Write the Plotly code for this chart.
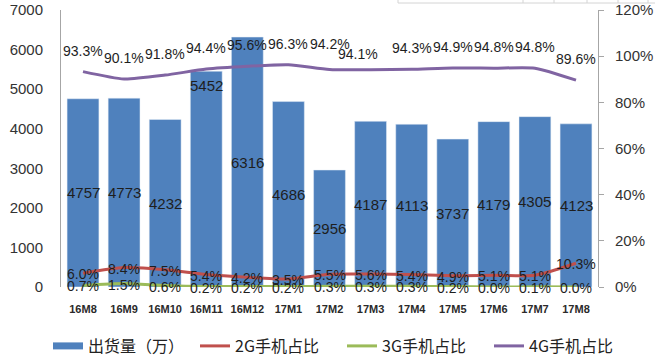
import plotly.graph_objects as go

# ---------------- data ----------------
categories = ["16M8", "16M9", "16M10", "16M11", "16M12", "17M1", "17M2",
              "17M3", "17M4", "17M5", "17M6", "17M7", "17M8"]
shipments = [4757, 4773, 4232, 5452, 6316, 4686, 2956, 4187, 4113, 3737, 4179, 4305, 4123]
share_2g = [6.0, 8.4, 7.5, 5.4, 4.2, 3.5, 5.5, 5.6, 5.4, 4.9, 5.1, 5.1, 10.3]
share_3g = [0.7, 1.5, 0.6, 0.2, 0.2, 0.2, 0.3, 0.3, 0.3, 0.2, 0.0, 0.1, 0.0]
share_4g = [93.3, 90.1, 91.8, 94.4, 95.6, 96.3, 94.2, 94.1, 94.3, 94.9, 94.8, 94.8, 89.6]
left_ticks = [0, 1000, 2000, 3000, 4000, 5000, 6000, 7000]
right_ticks = [0, 20, 40, 60, 80, 100, 120]
right_tick_labels = ["0%", "20%", "40%", "60%", "80%", "100%", "120%"]

names = ["出货量（万）", "2G手机占比", "3G手机占比", "4G手机占比"]

# ---------------- style ----------------
BLUE = "#4F81BD"
RED = "#C0504D"
GREEN = "#9BBB59"
PURPLE = "#8064A2"
TXT = "#1E1E1E"
AX = "#A6A6A6"
NUM_FONT = "Liberation Sans, Arial, sans-serif"
CJK_FONT = "Noto Sans CJK SC, sans-serif"

# small manual nudges of a few data labels (px) as in the original
nudge_4g = {6: (0, 5), 7: (-13, -5)}
nudge_bar = {3: "top"}

fig = go.Figure()

fig.add_trace(go.Bar(x=categories, y=shipments, marker_color=BLUE, showlegend=False,
                     name=names[0], yaxis="y"))
# legend-only entry drawn as a flat wide block
fig.add_trace(go.Scatter(x=[None], y=[None], mode="lines", name=names[0],
                         line=dict(color=BLUE, width=7), yaxis="y"))
for vals, col, nm in [(share_2g, RED, names[1]), (share_3g, GREEN, names[2]),
                      (share_4g, PURPLE, names[3])]:
    fig.add_trace(go.Scatter(x=categories, y=vals, mode="lines", name=nm,
                             line=dict(color=col, width=3, shape="spline", smoothing=0.6),
                             yaxis="y2"))

ann = []
for i, (c, v) in enumerate(zip(categories, shipments)):
    if nudge_bar.get(i) == "top":
        ann.append(dict(x=c, y=v, yref="y", xref="x", text=str(v), showarrow=False,
                        yshift=-14, font=dict(size=15, color=TXT, family=NUM_FONT)))
    else:
        ann.append(dict(x=c, y=v / 2, yref="y", xref="x", text=str(v), showarrow=False,
                        font=dict(size=15, color=TXT, family=NUM_FONT)))
for i, (c, v) in enumerate(zip(categories, share_2g)):
    ann.append(dict(x=c, y=v, yref="y2", xref="x", text=f"{v:.1f}%", showarrow=False,
                    yshift=-1, font=dict(size=14, color=TXT, family=NUM_FONT)))
for i, (c, v) in enumerate(zip(categories, share_3g)):
    ann.append(dict(x=c, y=v, yref="y2", xref="x", text=f"{v:.1f}%", showarrow=False,
                    yshift=-1, font=dict(size=14, color=TXT, family=NUM_FONT)))
for i, (c, v) in enumerate(zip(categories, share_4g)):
    dx, dy = nudge_4g.get(i, (0, 0))
    ann.append(dict(x=c, y=v, yref="y2", xref="x", text=f"{v:.1f}%", showarrow=False,
                    xshift=dx, yshift=21 + dy, font=dict(size=14, color=TXT, family=NUM_FONT)))

# faint table border visible at the top of the original picture
L, R, T, B = 61, 598, 10, 287
W, H = 656, 363
def px(xp):
    return (xp - L) / (R - L)
def py(yp):
    return (B - yp) / (B - T)
shapes = [dict(type="line", xref="paper", yref="paper", x0=px(398), x1=px(655),
               y0=py(3), y1=py(3), line=dict(color="#D4D4D4", width=1))]
for xv in [398, 523, 554, 587, 618, 648]:
    shapes.append(dict(type="line", xref="paper", yref="paper", x0=px(xv), x1=px(xv),
                       y0=py(0), y1=py(3), line=dict(color="#D4D4D4", width=1)))

fig.update_layout(
    width=W, height=H,
    margin=dict(l=L, r=W - R, t=T, b=H - B, autoexpand=False),
    paper_bgcolor="white", plot_bgcolor="white",
    bargap=0.225,
    annotations=ann,
    shapes=shapes,
    xaxis=dict(type="category", showline=False, showgrid=False, ticks="", automargin=False,
               tickfont=dict(size=11, color="#2A2A2A", family=NUM_FONT, weight="bold"),
               ticklabelstandoff=14),
    yaxis=dict(range=[0, 7000], tickvals=left_ticks, showgrid=False, zeroline=False,
               showline=True, linecolor=AX, linewidth=1, ticks="", automargin=False,
               tickfont=dict(size=15, color="#333", family=NUM_FONT),
               ticklabelstandoff=14),
    yaxis2=dict(range=[0, 120], tickvals=right_ticks, ticktext=right_tick_labels,
                overlaying="y", side="right", showgrid=False, zeroline=False, showline=True,
                linecolor=AX, linewidth=1, ticks="outside", ticklen=5, tickcolor=AX,
                automargin=False,
                tickfont=dict(size=15, color="#333", family=NUM_FONT),
                ticklabelstandoff=8),
    legend=dict(orientation="h", xref="paper", yref="paper",
                x=px(48), xanchor="left", y=py(346), yanchor="middle",
                font=dict(size=16, color="#222", family=CJK_FONT),
                bgcolor="rgba(0,0,0,0)", itemwidth=30, entrywidth=102,
                traceorder="normal"),
)

fig.write_html("out.html", config={"displayModeBar": False},
               post_script="document.body.style.margin='0px';document.body.style.padding='0px';")
